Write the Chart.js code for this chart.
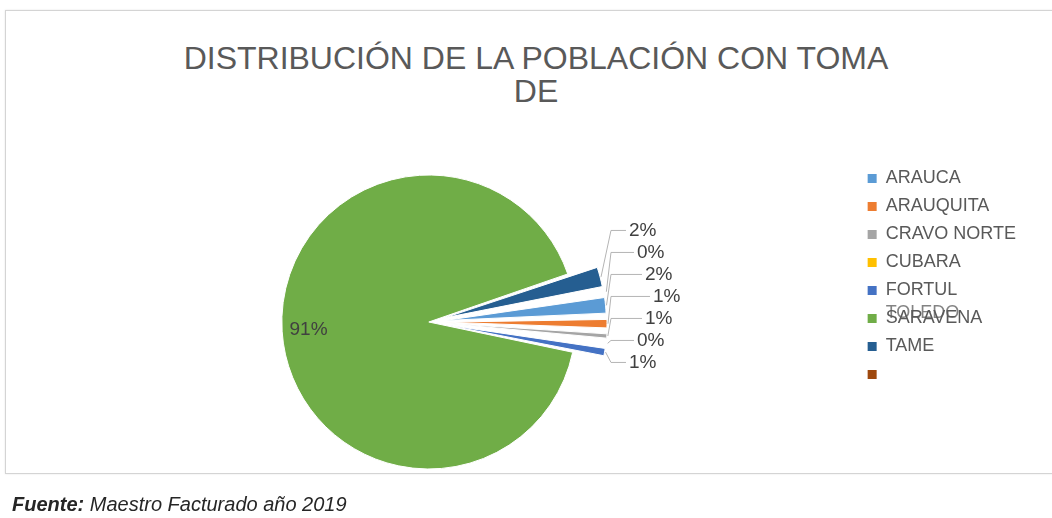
<!DOCTYPE html>
<html>
<head>
<meta charset="utf-8">
<title>Distribución de la población con toma</title>
<script src="https://cdn.jsdelivr.net/npm/chart.js@4.4.1/dist/chart.umd.min.js"></script>
<style>
  html, body { margin:0; padding:0; overflow:hidden; background:#fff; }
  body { width:1052px; height:518px; position:relative; font-family:"Liberation Sans", Arial, sans-serif; }
  #marco { position:absolute; left:5px; top:10px; width:1070px; height:462px; border:1px solid #d4d4d4; box-shadow:0 0 2px rgba(0,0,0,0.10); background:#fff; }
  #titulo { position:absolute; left:5px; top:42px; width:1062px; text-align:center; font-size:32px; line-height:33px; color:#595959; }
  #grafico { position:absolute; left:0; top:0; width:1052px; height:518px; }
  #fuente { position:absolute; left:12px; top:493px; font-size:20px; line-height:22px; font-style:italic; color:#262626; white-space:nowrap; }
</style>
</head>
<body>
<div id="marco"></div>
<div id="titulo">DISTRIBUCIÓN DE LA POBLACIÓN CON TOMA<br>DE</div>
<div id="grafico"><canvas id="myChart"></canvas></div>
<div id="fuente"><b>Fuente:</b> Maestro Facturado año 2019</div>

<script>
//DATOS
var municipios = ["ARAUCA", "ARAUQUITA", "CRAVO NORTE", "CUBARA", "FORTUL", "SARAVENA", "TAME", ""];
var poblacion = [2.0, 1.3, 0.9, 0.4, 1.2, 91.4, 2.4, 0.4];
var colores = ['#5B9BD5', '#ED7D31', '#A5A5A5', '#FFC000', '#4472C4', '#70AD47', '#255E91', '#9E480E'];

var total = poblacion.reduce(function(a, b) { return a + b; }, 0);
function porcentaje(v) { return Math.round(v / total * 100) + "%"; }

var fuente = "'Liberation Sans', Arial, sans-serif";
Chart.defaults.font.family = fuente;

//etiquetas de porcentaje con lineas guia
var etiquetas = {
  id: 'etiquetas',
  afterDatasetsDraw: function(chart) {
    var ctx = chart.ctx;
    var arcs = chart.getDatasetMeta(0).data;
    var chicas = [];
    ctx.save();
    ctx.font = "19px " + fuente;
    ctx.fillStyle = '#404040';
    ctx.textBaseline = 'middle';

    arcs.forEach(function(arc, i) {
      var p = arc.getProps(['x', 'y', 'startAngle', 'endAngle', 'outerRadius', 'circumference'], true);
      var mid = (p.startAngle + p.endAngle) / 2;
      var off = (arc.options.offset || 0) / 4;
      if (off == 0) {
        //tajada grande: texto adentro
        var r = p.outerRadius * 0.82;
        ctx.textAlign = 'center';
        ctx.fillText(porcentaje(poblacion[i]), p.x + Math.cos(mid) * r, p.y + Math.sin(mid) * r);
        return;
      }
      //mismo corrimiento que usa el arco al separarse
      var fix = 1 - Math.sin(Math.min(Math.PI, p.circumference));
      var d = p.outerRadius + off * fix + off;
      chicas.push({
        i: i,
        a: Math.atan2(Math.sin(mid), Math.cos(mid)),
        x: p.x + Math.cos(mid) * d,
        y: p.y + Math.sin(mid) * d
      });
    });

    chicas.sort(function(m, n) { return m.a - n.a; });
    var n = chicas.length, paso = 22, h = (n - 1) / 2;
    var medio = chicas.reduce(function(s, c) { return s + c.y; }, 0) / n - 22;
    var bordeX = Math.max.apply(null, chicas.map(function(c) { return c.x; }));

    ctx.strokeStyle = '#b4b4b4';
    ctx.lineWidth = 1;
    ctx.textAlign = 'left';
    chicas.forEach(function(c, j) {
      var t = h ? (j - h) / h : 0;
      var ly = medio + (j - h) * paso;
      var lx = bordeX + 22 + 24 * (1 - Math.abs(t));
      ctx.beginPath();
      ctx.moveTo(c.x + 1, c.y);
      ctx.lineTo(bordeX + 4, ly);
      ctx.lineTo(lx - 3, ly);
      ctx.stroke();
      ctx.fillText(porcentaje(poblacion[c.i]), lx, ly);
    });
    ctx.restore();
  }
};

//rotulo encimado en la leyenda
var encimado = {
  id: 'encimado',
  afterDraw: function(chart) {
    var caja = chart.legend.legendHitBoxes[5];
    if (!caja) return;
    var ctx = chart.ctx;
    ctx.save();
    ctx.font = "18px " + fuente;
    ctx.fillStyle = 'rgba(89,89,89,0.75)';
    ctx.textBaseline = 'middle';
    ctx.fillText("TOLEDO", caja.left + 9 + 9, caja.top + caja.height / 2 - 5);
    ctx.restore();
  }
};

//PIE Chart
var ctx = document.getElementById('myChart').getContext('2d');
var myChart = new Chart(ctx, {
  type: 'pie',
  data: {
    labels: municipios,
    datasets: [{
      data: poblacion,
      backgroundColor: colores,
      borderColor: '#ffffff',
      borderWidth: 1,
      offset: function(c) { return c.raw / total > 0.5 ? 0 : 65; },
      hoverOffset: 0
    }]
  },
  options: {
    responsive: true,
    maintainAspectRatio: false,
    animation: false,
    rotation: 81,
    radius: 147,
    layout: {
      padding: { left: -12, right: 26, top: 159.5, bottom: 33.5 }
    },
    plugins: {
      title: { display: false },
      tooltip: { enabled: false },
      legend: {
        position: 'right',
        align: 'start',
        labels: {
          boxWidth: 9,
          boxHeight: 9,
          padding: 10,
          color: '#595959',
          font: { family: fuente, size: 18 },
          generateLabels: function(chart) {
            var items = Chart.overrides.pie.plugins.legend.labels.generateLabels(chart);
            items.forEach(function(it) { it.lineWidth = 0; });
            return items;
          }
        }
      }
    }
  },
  plugins: [etiquetas, encimado]
});
</script>
</body>
</html>
